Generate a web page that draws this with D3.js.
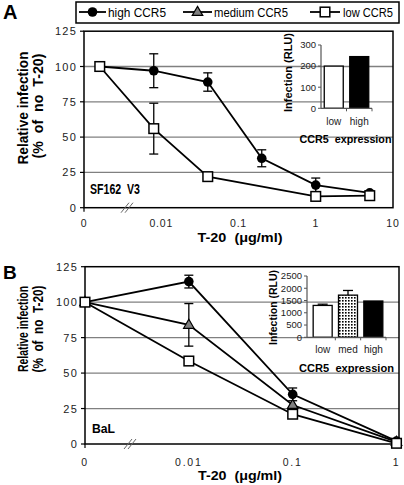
<!DOCTYPE html>
<html><head><meta charset="utf-8">
<script src="https://cdn.jsdelivr.net/npm/d3@7"></script>
<style>
body{margin:0;background:#fff;}
svg{display:block;font-family:"Liberation Sans",Arial,sans-serif;}
</style></head>
<body><svg id="c" width="404" height="485"></svg>
<script>
// ---------- DATA ----------
const seriesNames = ["high CCR5", "medium CCR5", "low CCR5"];
// Panel A (SF162 V3)
const concAHigh = [0.0016, 0.008, 0.04, 0.2, 1, 5];
const highA     = [100, 97, 89, 35, 16, 10.5];
const highAErr  = [0, 12, 6.5, 6, 5, 1.5];
const concALow  = [0.0016, 0.008, 0.04, 1, 5];
const lowA      = [100, 56, 22, 8, 8.5];
const lowAErr   = [0, 18, 0, 1, 1];
const xTicksA   = [0, 0.01, 0.1, 1, 10];
const xTickLabelsA = ["0", "0.01", "0.1", "1", "10"];
const yTicks    = [0, 25, 50, 75, 100, 125];
// Panel B (BaL)
const concB     = [0, 0.01, 0.1, 1];
const highB     = [100, 114.5, 35, 2];
const highBErr  = [0, 4.5, 4.5, 0];
const medB      = [100, 84, 27.5, 1.5];
const medBErr   = [0, 15, 0, 0];
const lowB      = [100, 58.5, 21, 0.5];
const lowBErr   = [0, 0, 0, 0];
const xTicksB   = [0, 0.01, 0.1, 1];
const xTickLabelsB = ["0", "0.01", "0.1", "1"];
// Insets
const insetCatsA = ["low", "high"];
const insetValsA = [200, 245];
const insetTicksA = [0, 100, 200, 300];
const insetCatsB = ["low", "med", "high"];
const insetValsB = [1300, 1720, 1480];
const insetErrB  = [50, 190, 0];
const insetTicksB = [0, 500, 1000, 1500, 2000, 2500];

// ---------- DRAW ----------
const NB = "\u00a0";
const svg = d3.select("#c");
const defs = svg.append("defs");
const pat = defs.append("pattern").attr("id","dots").attr("patternUnits","userSpaceOnUse")
  .attr("width",3).attr("height",3);
pat.append("rect").attr("width",3).attr("height",3).attr("fill","#fff");
pat.append("rect").attr("width",1.6).attr("height",1.6).attr("fill","#000");

function txt(g, s, x, y, o) {
  o = o || {};
  const t = g.append("text").attr("x", x).attr("y", y).text(s)
    .attr("font-size", o.size || 11)
    .attr("font-weight", o.bold ? "bold" : "normal")
    .attr("fill", o.fill || "#000")
    .attr("text-anchor", o.anchor || "start");
  if (o.len) t.attr("textLength", o.len).attr("lengthAdjust", "spacingAndGlyphs");
  if (o.ls) t.attr("letter-spacing", o.ls);
  if (o.rot) t.attr("transform", `rotate(-90,${x},${y})`);
  return t;
}

function marker(g, type, x, y) {
  if (type === "high") {
    g.append("circle").attr("cx", x).attr("cy", y).attr("r", 4.8).attr("fill", "#000");
  } else if (type === "medium") {
    const s = 10.5, h = s * 0.87;
    g.append("path").attr("d", `M${x},${y - h * 0.62}L${x + s / 2},${y + h * 0.38}L${x - s / 2},${y + h * 0.38}Z`)
      .attr("fill", "#808080").attr("stroke", "#000").attr("stroke-width", 1.2);
  } else {
    g.append("rect").attr("x", x - 4.8).attr("y", y - 4.8).attr("width", 9.6).attr("height", 9.6)
      .attr("fill", "#fff").attr("stroke", "#000").attr("stroke-width", 1.5);
  }
}

function panel(cfg) {
  const g = svg.append("g");
  const x = cfg.x, y = cfg.y;
  const xp = d => d === 0 ? x(cfg.zeroAt) : x(d);
  const [x0, x1] = [x.range()[0], cfg.frameRight];
  const [yb, yt] = y.range();
  g.selectAll(".grid").data(yTicks.filter(v => v > 0 && v < 125)).join("line")
    .attr("x1", x0).attr("x2", x1).attr("y1", d => y(d)).attr("y2", d => y(d))
    .attr("stroke", "#808080").attr("stroke-width", 1.3);
  g.append("rect").attr("x", x0).attr("y", yt).attr("width", x1 - x0).attr("height", yb - yt)
    .attr("fill", "none").attr("stroke", "#000").attr("stroke-width", 1.5);
  g.selectAll(".yt").data(yTicks).join("line")
    .attr("x1", x0 - 4).attr("x2", x0).attr("y1", d => y(d)).attr("y2", d => y(d))
    .attr("stroke", "#000").attr("stroke-width", 1.2);
  g.append("line").attr("x1", x0).attr("x2", x0).attr("y1", yb).attr("y2", yb + 4)
    .attr("stroke", "#000").attr("stroke-width", 1.2);
  yTicks.forEach(v => txt(g, String(v), x0 - 7, y(v) + 4, {size: 11, anchor: "end", fill: "#222", ls: 1.2}));
  cfg.xTicks.forEach((v, i) => txt(g, cfg.xTickLabels[i], xp(v), cfg.tickBase, {size: 10.5, anchor: "middle", fill: "#222", ls: cfg.tickLs}));
  const bx = cfg.breakX;
  [-2, 2].forEach(o => g.append("line")
    .attr("x1", bx + o - 4).attr("y1", yb + 5).attr("x2", bx + o + 4).attr("y2", yb - 5)
    .attr("stroke", "#666").attr("stroke-width", 1));
  cfg.inset(g);
  const line = d3.line().x(d => xp(d[0])).y(d => y(d[1]));
  cfg.series.forEach(s => {
    const pts = s.c.map((c, i) => [c, s.v[i], s.e[i]]);
    g.append("path").attr("d", line(pts)).attr("fill", "none").attr("stroke", "#000").attr("stroke-width", 1.8);
  });
  cfg.series.forEach(s => {
    const pts = s.c.map((c, i) => [c, s.v[i], s.e[i]]);
    pts.filter(p => p[2] > 0).forEach(p => {
      const cx = xp(p[0]);
      g.append("line").attr("x1", cx).attr("x2", cx).attr("y1", y(p[1] - p[2])).attr("y2", y(p[1] + p[2]))
        .attr("stroke", "#000").attr("stroke-width", 1.3);
      [p[1] - p[2], p[1] + p[2]].forEach(v => g.append("line").attr("x1", cx - 4.5).attr("x2", cx + 4.5)
        .attr("y1", y(v)).attr("y2", y(v)).attr("stroke", "#000").attr("stroke-width", 1.3));
    });
    pts.forEach(p => marker(g, s.type, xp(p[0]), y(p[1])));
  });
  return g;
}

function inset(g, cfg) {
  const yS = cfg.y, xS = cfg.x;
  const ax = cfg.axisX, y0 = yS(0);
  cfg.cats.forEach((c, i) => {
    const cx = xS(c) + xS.bandwidth() / 2, w = cfg.barW;
    const v = cfg.vals[i];
    if (cfg.err && cfg.err[i] > 0) {
      g.append("line").attr("x1", cx).attr("x2", cx).attr("y1", yS(v)).attr("y2", yS(v + cfg.err[i]))
        .attr("stroke", "#000").attr("stroke-width", 1.3);
      g.append("line").attr("x1", cx - 5).attr("x2", cx + 5).attr("y1", yS(v + cfg.err[i])).attr("y2", yS(v + cfg.err[i]))
        .attr("stroke", "#000").attr("stroke-width", 1.3);
    }
    g.append("rect").attr("x", cx - w / 2).attr("y", yS(v)).attr("width", w).attr("height", y0 - yS(v))
      .attr("fill", cfg.fills[i]).attr("stroke", "#000").attr("stroke-width", 1.3);
    txt(g, c, cx, cfg.catBase, {size: 10, anchor: "middle", fill: "#222"});
  });
  g.append("line").attr("x1", ax).attr("x2", ax).attr("y1", y0).attr("y2", yS(cfg.ticks[cfg.ticks.length - 1]))
    .attr("stroke", "#555").attr("stroke-width", 1.2);
  cfg.ticks.forEach(t => {
    g.append("line").attr("x1", ax - 3).attr("x2", ax).attr("y1", yS(t)).attr("y2", yS(t)).attr("stroke", "#555");
    txt(g, String(t), ax - 5, yS(t) + 3.3, {size: 9.5, anchor: "end", fill: "#222"});
  });
  const r = xS.range();
  g.append("line").attr("x1", ax).attr("x2", r[1]).attr("y1", y0).attr("y2", y0).attr("stroke", "#555").attr("stroke-width", 1.2);
  cfg.cats.forEach(c => {
    const bx = xS(c) + xS.bandwidth();
    g.append("line").attr("x1", bx).attr("x2", bx).attr("y1", y0).attr("y2", y0 + 3).attr("stroke", "#555");
  });
  txt(g, "Infection (RLU)", cfg.titleX, cfg.titleY, {size: 11, bold: true, anchor: "middle", rot: true, len: cfg.titleLen});
  txt(g, "CCR5" + NB + NB + "expression", cfg.exprX, cfg.exprBase, {size: 10.5, bold: true, anchor: "middle", len: cfg.exprLen});
}

// Panel A
const xA = d3.scaleLog().domain([0.001, 10]).range([84, 393]);
const yA = d3.scaleLinear().domain([0, 125]).range([207.7, 31.2]);
panel({
  x: xA, y: yA, zeroAt: 0.001, frameRight: 393, tickBase: 227, tickLs: 0.8, breakX: 127,
  xTicks: xTicksA, xTickLabels: xTickLabelsA,
  series: [
    {type: "high", c: concAHigh, v: highA, e: highAErr},
    {type: "low", c: concALow, v: lowA, e: lowAErr}
  ],
  inset: g => inset(g, {
    x: d3.scaleBand().domain(insetCatsA).range([321, 372]),
    y: d3.scaleLinear().domain([0, 300]).range([108.3, 45]),
    cats: insetCatsA, vals: insetValsA, fills: ["#fff", "#000"], barW: 19,
    ticks: insetTicksA, axisX: 321, catBase: 125,
    titleX: 292, titleY: 72.5, titleLen: 79,
    exprX: 345.5, exprBase: 143, exprLen: 92
  })
});

// Panel B
const xB = d3.scaleLog().domain([0.001, 1]).range([85, 396.5]);
const yB = d3.scaleLinear().domain([0, 125]).range([444, 266.7]);
panel({
  x: xB, y: yB, zeroAt: 0.001, frameRight: 399, tickBase: 466, tickLs: 1.8, breakX: 130,
  xTicks: xTicksB, xTickLabels: xTickLabelsB,
  series: [
    {type: "high", c: concB, v: highB, e: highBErr},
    {type: "medium", c: concB, v: medB, e: medBErr},
    {type: "low", c: concB, v: lowB, e: lowBErr}
  ],
  inset: g => inset(g, {
    x: d3.scaleBand().domain(insetCatsB).range([310, 386]),
    y: d3.scaleLinear().domain([0, 2500]).range([337.3, 276]),
    cats: insetCatsB, vals: insetValsB, err: insetErrB, fills: ["#fff", "url(#dots)", "#000"], barW: 19,
    ticks: insetTicksB, axisX: 307, catBase: 353,
    titleX: 276.5, titleY: 307.5, titleLen: 75,
    exprX: 346.5, exprBase: 372, exprLen: 95
  })
});

// Panel labels & titles
txt(svg, "A", 3, 19, {size: 20, bold: true});
txt(svg, "B", 3, 279, {size: 19, bold: true});
txt(svg, "SF162" + NB + NB + "V3", 90, 194, {size: 14, bold: true, len: 50});
txt(svg, "BaL", 92, 433, {size: 12, bold: true, len: 23});
txt(svg, "T-20" + NB + NB + "(\u03bcg/ml)", 240, 242, {size: 13.5, bold: true, anchor: "middle", len: 85});
txt(svg, "T-20" + NB + NB + "(\u03bcg/ml)", 240, 480, {size: 13.5, bold: true, anchor: "middle", len: 84});
const yT2 = "(%" + NB + NB + "of" + NB + NB + "no" + NB + NB + "T-20)";
txt(svg, "Relative infection", 28, 108, {size: 14, bold: true, anchor: "middle", rot: true, len: 113});
txt(svg, yT2, 43, 106, {size: 14, bold: true, anchor: "middle", rot: true, len: 105});
txt(svg, "Relative infection", 28, 329, {size: 14, bold: true, anchor: "middle", rot: true, len: 86});
txt(svg, yT2, 43, 329, {size: 14, bold: true, anchor: "middle", rot: true, len: 87});

// Legend
const lg = svg.append("g");
lg.append("rect").attr("x", 76).attr("y", 2).attr("width", 323).attr("height", 21)
  .attr("fill", "#fff").attr("stroke", "#000").attr("stroke-width", 1.5);
const legItems = [
  {type: "high", x1: 79, x2: 106, tx: 108, len: 58},
  {type: "medium", x1: 183, x2: 212, tx: 214, len: 74},
  {type: "low", x1: 310, x2: 340, tx: 343, len: 50}
];
legItems.forEach((it, i) => {
  lg.append("line").attr("x1", it.x1).attr("x2", it.x2).attr("y1", 12).attr("y2", 12)
    .attr("stroke", "#000").attr("stroke-width", 1.8);
  marker(lg, it.type, (it.x1 + it.x2) / 2, 12);
  txt(lg, seriesNames[i], it.tx, 16.5, {size: 12.5, len: it.len});
});
</script></body></html>
